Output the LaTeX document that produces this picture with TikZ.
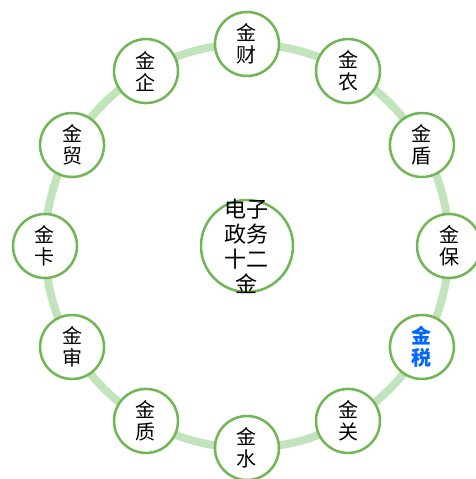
\documentclass[tikz,border=0pt]{standalone}
\usepackage{fontspec}
\newfontfamily\cjk{Noto Sans CJK SC}
\definecolor{ringgreen}{RGB}{194,228,188}
\definecolor{nodegreen}{RGB}{112,182,84}
\definecolor{taxblue}{RGB}{0,102,255}
\tikzset{
  jinnode/.style={circle, draw=nodegreen, line width=2.5pt, fill=white,
    minimum size=64pt, inner sep=0pt, align=center,
    font=\cjk\fontsize{20}{22}\selectfont},
  hubnode/.style={circle, draw=nodegreen, line width=2.5pt, fill=white,
    minimum size=92pt, inner sep=0pt},
  hubtext/.style={align=center, inner sep=0pt,
    font=\cjk\fontsize{22}{25}\selectfont}
}

\begin{document}
\begin{tikzpicture}[x=1pt,y=1pt]
  \useasboundingbox (-247,-233) rectangle (229,246);

  \def\R{202}
  \coordinate (O) at (0,0);

  \draw[ringgreen, line width=8pt] (O) circle [radius=\R pt];

  \node[hubnode] (hub) at (O) {};
  \node[hubtext] (hublabel) at (hub) {电子\\政务\\十二\\金};

  \foreach \a/\name/\txt in {90/cai/财, 60/nong/农, 30/dun/盾, 0/bao/保,
      -60/guan/关, -90/shuili/水, -120/zhi/质, -150/shen/审,
      180/ka/卡, 150/mao/贸, 120/qi/企}
    \node[jinnode] (\name) at (\a:\R) {金\\\txt};

  \node[jinnode, text=taxblue, font=\cjk\fontsize{20}{22}\selectfont\bfseries] (shui) at (-30:\R) {金\\税};

\end{tikzpicture}
\end{document}
